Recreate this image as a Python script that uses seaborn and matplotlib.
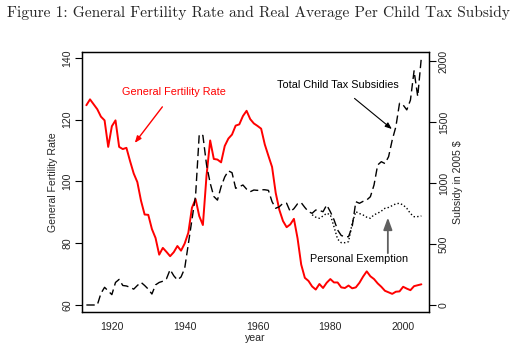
import matplotlib
matplotlib.use("Agg")
import matplotlib.pyplot as plt
import seaborn as sns
import pandas as pd

years = list(range(1913, 2006))
gfr = [124.7, 126.6, 125.0, 123.4, 121.0, 119.8, 111.2, 117.9, 119.8, 111.2,
       110.5, 110.9, 106.6, 102.6, 99.8, 93.8, 89.3, 89.2, 84.6, 81.7,
       76.3, 78.5, 77.2, 75.8, 77.1, 79.1, 77.6, 79.9, 83.4, 91.5,
       94.3, 88.8, 85.9, 101.9, 113.3, 107.3, 107.1, 106.2, 111.5, 113.9,
       115.2, 118.1, 118.5, 121.2, 122.9, 120.2, 118.8, 118.0, 117.1, 112.0,
       108.3, 104.7, 96.3, 90.8, 87.2, 85.2, 86.1, 87.9, 81.6, 73.1,
       68.8, 67.8, 66.0, 65.0, 66.8, 65.5, 67.2, 68.4, 67.3, 67.3,
       65.7, 65.5, 66.3, 65.4, 65.7, 67.2, 69.2, 70.9, 69.3, 68.4,
       67.0, 65.9, 64.6, 64.1, 63.6, 64.3, 64.4, 65.9, 65.3, 64.8,
       66.1, 66.4, 66.7]
total_subsidy = [0, 0, 0, 0, 95, 145, 115, 85, 185, 210,
                 160, 156, 145, 130, 160, 186, 160, 130, 90, 165,
                 185, 195, 215, 290, 240, 205, 230, 300, 500, 700,
                 900, 1400, 1390, 1150, 1000, 890, 860, 970, 1050, 1100,
                 1085, 957, 970, 984, 950, 929, 943, 940, 945, 945,
                 940, 847, 793, 806, 834, 834, 765, 790, 830, 839,
                 800, 765, 752, 779, 775, 765, 820, 765, 700, 615,
                 570, 560, 560, 642, 847, 834, 850, 861, 888, 984,
                 1148, 1175, 1160, 1216, 1353, 1462, 1654, 1640, 1600, 1680,
                 1920, 1710, 2030]
exemption_years = list(range(1975, 2006))
exemption = [740, 720, 711, 730, 752, 740, 642, 540, 511, 511,
             519, 670, 765, 750, 738, 720, 711, 740, 752, 770,
             793, 800, 815, 830, 834, 820, 793, 750, 724, 725,
             730]

df = pd.DataFrame({"year": years, "gfr": gfr, "total": total_subsidy})
dfe = pd.DataFrame({"year": exemption_years, "exemption": exemption})

sns.set_theme(style="white")
plt.rcParams["font.family"] = ["Liberation Sans", "DejaVu Sans"]

W, H = 517, 346
fig = plt.figure(figsize=(W / 100, H / 100), dpi=100)
ax = fig.add_axes([82 / W, 1 - 312 / H, (429 - 82) / W, (312 - 52) / H])
ax2 = ax.twinx()

sns.lineplot(data=df, x="year", y="gfr", ax=ax, color="red", lw=1.4)
sns.lineplot(data=df, x="year", y="total", ax=ax2, color="black", lw=1.0,
             linestyle=(0, (6, 3)))
sns.lineplot(data=dfe, x="year", y="exemption", ax=ax2, color="black", lw=1.0,
             linestyle=(0, (1, 1.6)))

ax.set_xlim(1911.8, 2007.1)
ax.set_ylim(57.73, 141.94)
ax2.set_ylim(-57.4, 2074.6)

ax.set_xticks([1920, 1940, 1960, 1980, 2000])
ax.set_yticks([60, 80, 100, 120, 140])
ax2.set_yticks([0, 500, 1000, 1500, 2000])

fs = 7.6
for a in (ax, ax2):
    a.tick_params(axis="both", direction="out", length=5, width=0.8,
                  color="black", labelsize=fs, pad=2)
    for s in a.spines.values():
        s.set_color("black")
        s.set_linewidth(0.9)
for lab in ax.get_yticklabels():
    lab.set_rotation(90)
    lab.set_va("center")
for lab in ax2.get_yticklabels():
    lab.set_rotation(90)
    lab.set_va("center")

ax.set_xlabel("year", fontsize=fs, labelpad=1)
ax.set_ylabel("General Fertility Rate", fontsize=fs, labelpad=3)
ax2.set_ylabel("Subsidy in 2005 $", fontsize=fs, labelpad=3)

afs = 7.8
ax.annotate("General Fertility Rate", xy=(1926.3, 112.5), xytext=(1937.0, 129.0),
            color="red", fontsize=afs, ha="center", va="center",
            arrowprops=dict(arrowstyle="-|>,head_length=0.5,head_width=0.2",
                            color="red", lw=1.0, shrinkA=6, shrinkB=0))
ax.annotate("Total Child Tax Subsidies", xy=(1996.9, 117.0), xytext=(1982.1, 131.3),
            color="black", fontsize=afs, ha="center", va="center",
            arrowprops=dict(arrowstyle="-|>,head_length=0.5,head_width=0.2",
                            color="black", lw=0.8, shrinkA=6, shrinkB=0))
ax.annotate("Personal Exemption", xy=(1995.8, 88.5), xytext=(1987.9, 74.9),
            color="black", fontsize=afs, ha="center", va="center")
ax.annotate("", xy=(1995.8, 88.3), xytext=(1995.8, 76.8),
            arrowprops=dict(arrowstyle="-|>,head_length=0.6,head_width=0.22",
                            color="#606060", lw=1.3, shrinkA=0, shrinkB=0))

fig.text(258.5 / W, 1 - 13 / H,
         "Figure 1: General Fertility Rate and Real Average Per Child Tax Subsidy",
         family="cmr10", fontsize=11.1, ha="center", va="center")

fig.savefig("out.png", dpi=100)
